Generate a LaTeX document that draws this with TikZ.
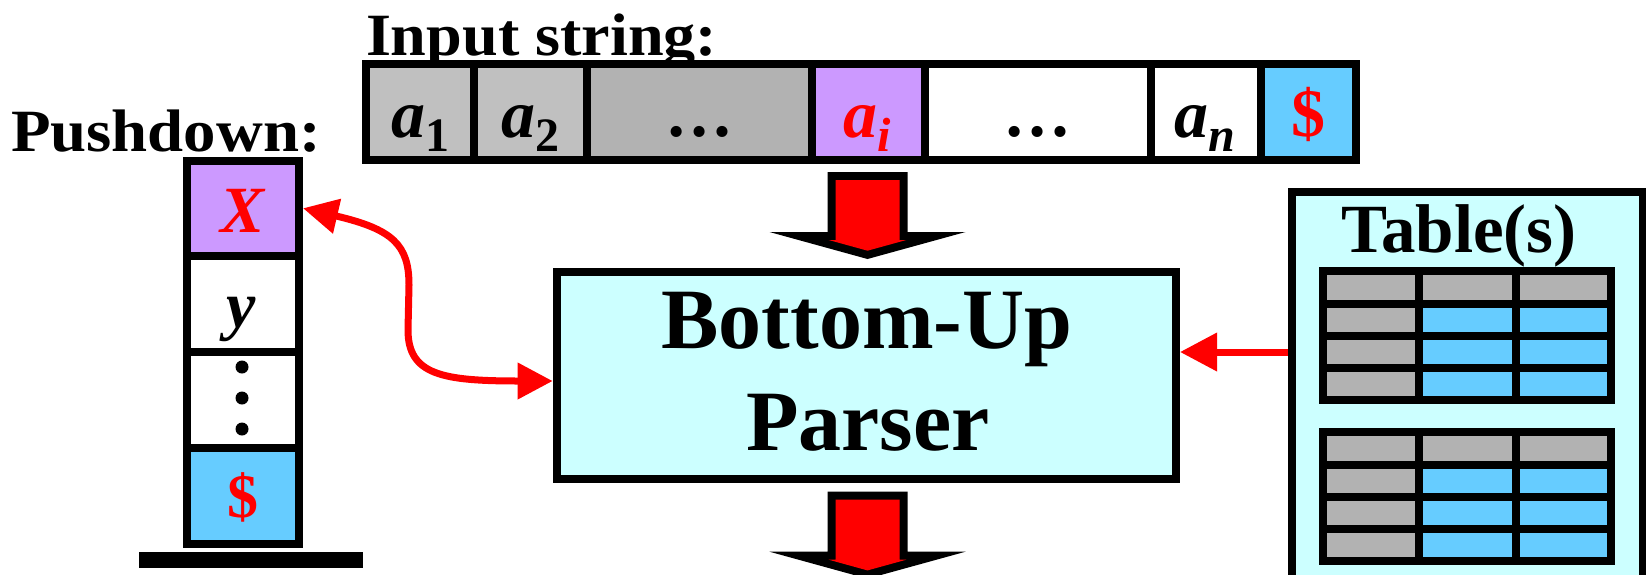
\documentclass[tikz,border=0pt]{standalone}
\usepackage{fontspec}
\setmainfont{Liberation Serif}
\usepackage{graphicx}
\usetikzlibrary{arrows.meta}
\definecolor{gLight}{HTML}{C0C0C0}
\definecolor{gDark}{HTML}{B2B2B2}
\definecolor{pPurple}{HTML}{CC99FF}
\definecolor{pBlue}{HTML}{66CCFF}
\definecolor{pCyan}{HTML}{CCFFFF}
\definecolor{pRed}{HTML}{FF0000}
\newcommand\tapefont{\fontsize{68}{80}\selectfont\bfseries}
\newcommand\subfnt{\fontsize{48}{56}\selectfont\bfseries}
\newcommand\lowsub[1]{\raisebox{-14pt}{\subfnt #1}}
\tikzset{
  cellbox/.style={draw=black, line width=8pt, inner sep=0pt, minimum height=96.5pt},
  stackcell/.style={draw=black, line width=8pt, inner sep=0pt, minimum width=112pt},
  txt/.style={anchor=base, inner sep=0pt, outer sep=0pt},
  redline/.style={draw=pRed, line width=7pt},
  pics/blockdown/.style={code={
    \fill[black] (-40,0) -- (40,0) -- (40,60) -- (98,60) -- (0,87) -- (-98,60) -- (-40,60) -- cycle;
    \fill[pRed] (-32,8) -- (32,8) -- (32,68) -- (38.8,68) -- (0,78.7) -- (-38.8,68) -- (-32,68) -- cycle;
  }}
}
\begin{document}
\begin{tikzpicture}[x=1pt,y=-1pt]
\useasboundingbox (0,0) rectangle (1646,574);

% titles
\node[txt, anchor=base west] (intitle) at (366,55) {\scalebox{1.07}[1]{\fontsize{60}{70}\selectfont\bfseries Input string:}};
\node[txt, anchor=base west] (pdtitle) at (11,151) {\scalebox{1.08}[1]{\fontsize{60}{70}\selectfont\bfseries Pushdown:}};

% input tape
\node[cellbox, fill=gLight, minimum width=108pt] (c1) at (420,111.75) {};
\node[cellbox, fill=gLight, minimum width=113pt] (c2) at (530.5,111.75) {};
\node[cellbox, fill=gDark, minimum width=225pt] (c3) at (699.5,111.75) {};
\node[cellbox, fill=pPurple, minimum width=112.5pt] (c4) at (868.25,111.75) {};
\node[cellbox, fill=white, minimum width=226.5pt] (c5) at (1037.75,111.75) {};
\node[cellbox, fill=white, minimum width=110pt] (c6) at (1206,111.75) {};
\node[cellbox, fill=pBlue, minimum width=95pt] (c7) at (1308.5,111.75) {};

\node[txt] (t1) at (420,137) {\tapefont\itshape a\lowsub{\upshape 1}};
\node[txt] (t2) at (530.5,137) {\tapefont\itshape a\lowsub{\upshape 2}};
\node[txt] (t3) at (699.5,136) {\tapefont …};
\node[txt] (t4) at (867,137) {\tapefont\itshape\color{pRed}a\lowsub{i}};
\node[txt] (t5) at (1037.75,136) {\tapefont …};
\node[txt] (t6) at (1205,137) {\tapefont\itshape a\lowsub{n}};
\node[txt] (t7) at (1308,136) {\tapefont\color{pRed}\$};

% pushdown stack
\node[stackcell, fill=pPurple, minimum height=95.1pt] (Xc) at (243,208.25) {};
\node[stackcell, fill=white, minimum height=96.2pt] (yc) at (243,303.9) {};
\node[stackcell, fill=white, minimum height=96pt] (dc) at (243,400) {};
\node[stackcell, fill=pBlue, minimum height=96pt] (sc) at (243,496) {};
\node[txt] (tX) at (243,232) {\fontsize{66}{76}\selectfont\bfseries\itshape\color{pRed}X};
\node[txt] (ty) at (241,327) {\fontsize{66}{76}\selectfont\bfseries\itshape y};
\fill (242,367) circle (6.5pt);
\fill (242,398) circle (6.5pt);
\fill (242,429) circle (6.5pt);
\node[txt] (ts) at (243,517) {\fontsize{62}{72}\selectfont\bfseries\color{pRed}\$};
\fill[black] (139,551.7) rectangle (363,567.7);

% parser
\node[draw=black, line width=8pt, fill=pCyan, inner sep=0pt, minimum width=619.3pt, minimum height=206.7pt] (parser) at (866.35,375.65) {};
\node[txt] (p1) at (867,348) {\fontsize{86}{100}\selectfont\bfseries Bottom-Up};
\node[txt] (p2) at (868,450) {\fontsize{86}{100}\selectfont\bfseries Parser};

% block arrows
\pic at (867.5,172) {blockdown};
\pic at (867.5,491.7) {blockdown};

% tables
\node[draw=black, line width=8pt, fill=pCyan, inner sep=0pt, minimum width=350.5pt, minimum height=398pt] (tbl) at (1467.25,391) {};
\node[txt] (ttl) at (1459,252.7) {\fontsize{69}{80}\selectfont\bfseries Table(s)};
\foreach \yo in {0,161} {
  \fill[gDark] (1323,{271+\yo}) rectangle (1611,{303.5+\yo});
  \fill[gDark] (1323,{303.5+\yo}) rectangle (1419,{399.5+\yo});
  \fill[pBlue] (1419,{303.5+\yo}) rectangle (1611,{399.5+\yo});
  \draw[line width=8pt] (1323,{271+\yo}) rectangle (1611,{399.5+\yo});
  \foreach \yy in {303.5,335.5,367.5} \draw[line width=8pt] (1323,{\yy+\yo}) -- (1611,{\yy+\yo});
  \foreach \xx in {1419,1515.5} \draw[line width=8pt] (\xx,{271+\yo}) -- (\xx,{399.5+\yo});
}

% connectors
\coordinate (rowmid) at (0,352);
\coordinate (lowmid) at (0,381);
\draw[redline, -{Triangle[length=37pt,width=37pt]}] (tbl.west |- rowmid) -- (parser.east |- rowmid);
\draw[redline, {Triangle[length=35pt,width=34pt]}-{Triangle[length=35pt,width=35pt]}]
  (Xc.east) .. controls +(90,21) and +(0,-40) .. (409,285) -- (408,330)
  .. controls +(0,45) and +(-110,0) .. (parser.west |- lowmid);
\end{tikzpicture}
\end{document}
